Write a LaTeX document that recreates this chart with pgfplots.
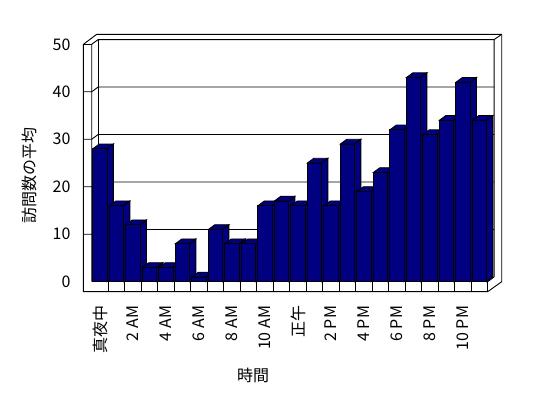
\documentclass[border=0pt]{standalone}
\usepackage{fontspec}
\setmainfont{Noto Sans CJK JP}
\usepackage{pgfplots}
\usepackage{pgfplotstable}
\pgfplotsset{compat=1.18}
\definecolor{barnavy}{RGB}{0,0,128}
\pgfplotstableread{
h v
0 28
1 16
2 12
3 3
4 3
5 8
6 1
7 11
8 8
9 8
10 16
11 17
12 16
13 25
14 16
15 29
16 19
17 23
18 32
19 43
20 31
21 34
22 42
23 34
}\visits
\begin{document}
\begin{tikzpicture}
\useasboundingbox (0pt,0pt) rectangle (548pt,398pt);
\begin{axis}[
  at={(91.7pt,116.3pt)}, anchor=south west,
  scale only axis, width=396pt, height=237.4pt,
  xmin=-0.5, xmax=23.5, ymin=0, ymax=50,
  clip=false,
  axis line style={draw=none},
  major tick length=0pt,
  tick style={draw=none},
  xtick={0,2,...,22},
  xticklabels={真夜中,2 AM,4 AM,6 AM,8 AM,10 AM,正午,2 PM,4 PM,6 PM,8 PM,10 PM},
  xticklabel style={rotate=90, anchor=east, inner sep=0pt},
  xticklabel shift=24pt,
  ytick={0,10,...,50},
  yticklabel style={anchor=east, inner sep=0pt},
  yticklabel shift=21pt,
  ticklabel style={font=\fontsize{16}{19}\selectfont},
  /pgf/number format/assume math mode=true,
]
% frame
\draw[black, line width=0.9pt, fill=white] (axis cs:-1,-2.1) -- (axis cs:-1,50) -- (axis cs:-0.2,52.1) -- (axis cs:24.35,52.1) -- (axis cs:24.35,0) -- (axis cs:23.5,-2.1) -- cycle;
\draw[black, line width=0.9pt] (axis cs:-0.5,0) -- (axis cs:-0.5,50) -- (axis cs:-0.11,51) -- (axis cs:23.89,51) -- (axis cs:24.35,52.1);
\draw[black, line width=0.9pt] (axis cs:-1,50) -- (axis cs:-0.5,50);
\draw[black, line width=0.9pt] (axis cs:-0.11,51) -- (axis cs:-0.11,1);
\draw[black, line width=0.9pt] (axis cs:-0.5,0) -- (axis cs:23.5,0) -- (axis cs:23.5,-2.1);
\draw[black, line width=0.9pt] (axis cs:23.5,0) -- (axis cs:23.89,1) -- (axis cs:23.89,51);
\draw[black, line width=0.9pt] (axis cs:-1,10) -- (axis cs:-0.5,10) -- (axis cs:-0.11,11) -- (axis cs:23.89,11);
\draw[black, line width=0.9pt] (axis cs:-1,20) -- (axis cs:-0.5,20) -- (axis cs:-0.11,21) -- (axis cs:23.89,21);
\draw[black, line width=0.9pt] (axis cs:-1,30) -- (axis cs:-0.5,30) -- (axis cs:-0.11,31) -- (axis cs:23.89,31);
\draw[black, line width=0.9pt] (axis cs:-1,40) -- (axis cs:-0.5,40) -- (axis cs:-0.11,41) -- (axis cs:23.89,41);
\pgfplotsinvokeforeach{0.5,1.5,...,22.5}{
  \draw[black, line width=0.9pt] (axis cs:#1,-2.1) -- (axis cs:#1,0);
}
% side and top faces of the bars
\pgfplotsinvokeforeach{0,...,23}{
  \pgfplotstablegetelem{#1}{v}\of\visits
  \let\vv\pgfplotsretval
  \pgfmathsetmacro{\xa}{#1+0.425}
  \pgfmathsetmacro{\xb}{#1+0.815}
  \pgfmathsetmacro{\xc}{#1-0.425}
  \pgfmathsetmacro{\xd}{#1-0.035}
  \pgfmathsetmacro{\vt}{\vv+1}
  \edef\temp{%
    \noexpand\addplot[forget plot, fill=barnavy, draw=black, line width=0.9pt, mark=none] coordinates {(\xa,0) (\xb,1) (\xb,\vt) (\xa,\vv)} -- cycle;
    \noexpand\addplot[forget plot, fill=barnavy, draw=black, line width=0.9pt, mark=none] coordinates {(\xc,\vv) (\xa,\vv) (\xb,\vt) (\xd,\vt)} -- cycle;
  }
  \temp
}
% front faces
\addplot[ybar, bar width=0.85, fill=barnavy, draw=black, line width=0.9pt] table[x=h,y=v]{\visits};
\node[rotate=90, font=\fontsize{16}{19}\selectfont] at (axis cs:-4.3,22.3) {訪問数の平均};
\node[font=\fontsize{16}{19}\selectfont] at (axis cs:9.28,-19.76) {時間};
\end{axis}
\end{tikzpicture}
\end{document}
